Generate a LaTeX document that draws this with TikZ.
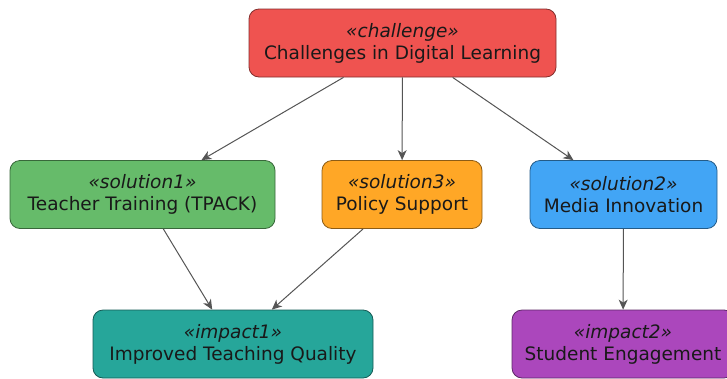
\documentclass[tikz,border=0pt]{standalone}
\usepackage{fontspec}
\setmainfont{DejaVu Sans}
\usetikzlibrary{arrows.meta}
\definecolor{challenge}{HTML}{EF5350}
\definecolor{solution1}{HTML}{66BB6A}
\definecolor{solution2}{HTML}{42A5F5}
\definecolor{solution3}{HTML}{FFA726}
\definecolor{impact1}  {HTML}{26A69A}
\definecolor{impact2}  {HTML}{AB47BC}
\definecolor{edge}     {HTML}{555555}

\tikzset{
  card/.style={draw=#1!55!black, fill=#1, rounded corners=10pt, line width=0.8pt,
               minimum height=68pt, inner sep=0pt, align=center, text=black!90,
               font=\fontsize{18.5}{22}\selectfont},
  link/.style={draw=edge, line width=1pt, -{Stealth[length=10pt, width=9pt, inset=3pt]}}
}

\begin{document}
\begin{tikzpicture}[x=1pt, y=-1pt]
  \useasboundingbox (0,0) rectangle (727,378);
  % stereotype doubles as the fill colour
  \foreach \nm/\c/\t/\x/\y/\w in
    {chal/challenge/Challenges in Digital Learning/402.5/43/307,
     tpack/solution1/Teacher Training (TPACK)/142.5/194.5/265,
     policy/solution3/Policy Support/402/194.5/160,
     media/solution2/Media Innovation/623.5/194.5/187,
     teach/impact1/Improved Teaching Quality/233/344/280,
     engage/impact2/Student Engagement/623/344/222}
    \node[card=\c, minimum width=\w] (\nm) at (\x,\y) {{\itshape «\c»}\\\t};

  \foreach \a/\b in {chal/tpack, chal/policy, chal/media,
                     tpack/teach, policy/teach, media/engage}
    \draw[link] (\a) -- (\b);
\end{tikzpicture}
\end{document}
